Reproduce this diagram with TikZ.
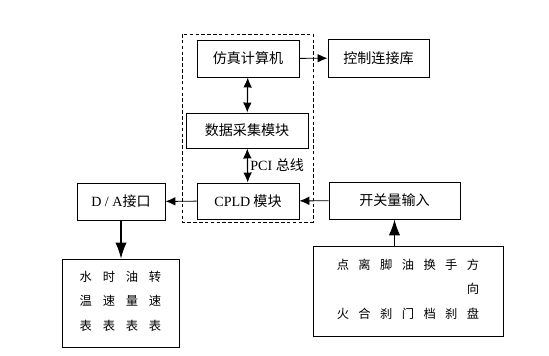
\documentclass[tikz,border=0pt]{standalone}
\usepackage{fontspec}
\setmainfont{Liberation Serif}
\newfontfamily\cjk{Noto Sans CJK SC}
\usetikzlibrary{positioning, arrows.meta}

\begin{document}
\begin{tikzpicture}[x=0.03cm, y=-0.03cm,
   block/.style={draw, rectangle, line width=0.8pt, inner sep=0pt, font=\cjk\fontsize{12}{14}\selectfont},
   grid/.style={draw, rectangle, line width=0.8pt, inner sep=0pt, font=\cjk\fontsize{10.5}{12.6}\selectfont},
   arrow/.style={-{Latex[length=3mm, width=2.6mm]}, line width=0.8pt},
   twoway/.style={{Latex[length=3mm, width=2.6mm]}-{Latex[length=3mm, width=2.6mm]}, line width=1pt},
   bigarrow/.style={-{Latex[length=4.8mm, width=3.4mm]}, line width=0.9pt}
]
\useasboundingbox (0,0) rectangle (549,355);

% Nodes
\node [block, minimum width=102*0.03cm, minimum height=37*0.03cm] (sim) at (248,58.5) {仿真计算机};
\node [block, minimum width=101*0.03cm, minimum height=38*0.03cm] (lib) at (378.5,58) {控制连接库};
\node [block, minimum width=122*0.03cm, minimum height=35*0.03cm] (daq) at (247,130.5) {数据采集模块};
\node [block, minimum width=102*0.03cm, minimum height=36*0.03cm] (cpld) at (248,201) {{\rmfamily CPLD} 模块};
\node [block, minimum width=88*0.03cm, minimum height=37*0.03cm] (da) at (121,201.5) {{\rmfamily D / A}接口};
\node [block, minimum width=131*0.03cm, minimum height=37*0.03cm] (sw) at (394.5,200.5) {开关量输入};
\node [grid, minimum width=117*0.03cm, minimum height=88*0.03cm] (meters) at (120.5,303) {%
   \setlength{\tabcolsep}{4.6pt}%
   \begin{tabular}{@{}cccc@{}}
   水 & 时 & 油 & 转\\[8.7pt]
   温 & 速 & 量 & 速\\[8.7pt]
   表 & 表 & 表 & 表
   \end{tabular}};
\node [grid, minimum width=190*0.03cm, minimum height=90*0.03cm] (inputs) at (408,291) {%
   \setlength{\tabcolsep}{4pt}%
   \begin{tabular}{@{}ccccccc@{}}
   点 & 离 & 脚 & 油 & 换 & 手 & 方\\[8.2pt]
    &  &  &  &  &  & 向\\[8.2pt]
   火 & 合 & 刹 & 门 & 档 & 刹 & 盘
   \end{tabular}};

% Host frame
\draw [line width=0.8pt, dash pattern=on 3pt off 2pt] (182,34) rectangle (313,222);

% Connections
\draw [arrow] (sim) -- (lib);
\draw [twoway] (sim) -- (daq);
\draw [twoway] (daq) -- node [right, inner sep=2pt, font=\fontsize{12}{14}\selectfont] {PCI {\cjk 总线}} (cpld);
\draw [arrow] (cpld) -- (da);
\draw [arrow] (sw) -- (cpld);
\draw [bigarrow] (da) -- (meters.north -| da);
\draw [bigarrow] (inputs.north -| sw) -- (sw);

\end{tikzpicture}
\end{document}
